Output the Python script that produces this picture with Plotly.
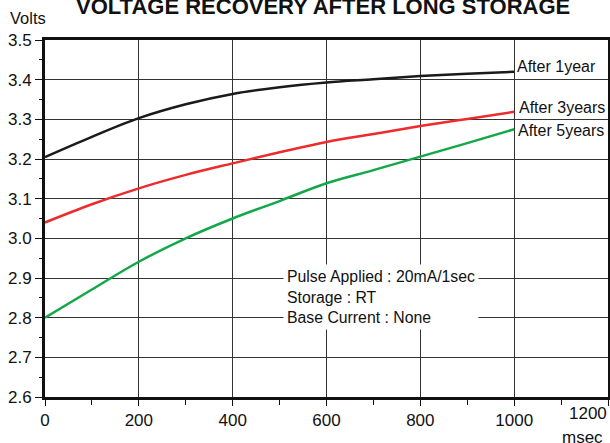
import plotly.graph_objects as go

x_ms = [0, 100, 200, 300, 400, 500, 600, 700, 800, 900, 1000]
v_1year = [3.205, 3.256, 3.303, 3.338, 3.364, 3.381, 3.393, 3.401, 3.409, 3.415, 3.42]
v_3years = [3.04, 3.086, 3.126, 3.16, 3.189, 3.217, 3.243, 3.263, 3.283, 3.301, 3.319]
v_5years = [2.80, 2.871, 2.941, 3.00, 3.05, 3.094, 3.139, 3.172, 3.206, 3.24, 3.275]
x_ticks = [0, 200, 400, 600, 800, 1000, 1200]
x_ticktext = ["0", "200", "400", "600", "800", "1000", ""]

series = [("After 1year", v_1year, "#1a1a1a"),
          ("After 3years", v_3years, "#ee2b2b"),
          ("After 5years", v_5years, "#12a84a")]

fig = go.Figure()
for name, ys, col in series:
    fig.add_trace(go.Scatter(x=x_ms, y=ys, mode="lines", name=name,
                             line=dict(color=col, width=2.5, shape="spline", smoothing=1.0)))

font = "Liberation Sans, Arial, sans-serif"
label_pos = [("After 1year", 1003, 3.434), ("After 3years", 1009, 3.329), ("After 5years", 1007, 3.271)]
for t, xv, yv in label_pos:
    fig.add_annotation(x=xv, y=yv, text=t, showarrow=False, xanchor="left", yanchor="middle",
                       font=dict(size=16, color="#111", family=font), bgcolor="white", borderpad=0)

fig.add_annotation(x=507, y=2.852, text="Pulse Applied : 20mA/1sec<br>Storage : RT<br>Base Current : None",
                   showarrow=False, xanchor="left", yanchor="middle", align="left",
                   font=dict(size=15.8, color="#111", family=font), bgcolor="white", borderpad=3)

fig.add_annotation(xref="paper", yref="paper", x=0.5, xshift=-4, y=1, yshift=34,
                   text="<b>VOLTAGE RECOVERY AFTER LONG STORAGE</b>",
                   showarrow=False, font=dict(size=22, color="#111", family=font), xanchor="center", yanchor="middle")
fig.add_annotation(xref="paper", yref="paper", x=0, xshift=-37, y=1, yshift=22, text="Volts",
                   showarrow=False, font=dict(size=16.5, color="#111", family=font), xanchor="left", yanchor="middle")
fig.add_annotation(xref="paper", yref="paper", x=1, xshift=-3, y=0, yshift=-40, text="msec",
                   showarrow=False, font=dict(size=17, color="#111", family=font), xanchor="right", yanchor="middle")
fig.add_annotation(xref="paper", yref="paper", x=1, xshift=1, y=0, yshift=-16, text="1200",
                   showarrow=False, font=dict(size=17, color="#111", family=font), xanchor="right", yanchor="middle")

fig.update_layout(
    width=610, height=443, showlegend=False,
    margin=dict(l=45, r=2, t=40, b=46, autoexpand=False),
    plot_bgcolor="white", paper_bgcolor="white",
    font=dict(family=font, size=17, color="#111"),
)
fig.update_xaxes(range=[0, 1200], tickvals=x_ticks, ticktext=x_ticktext, showgrid=True, gridcolor="#333", gridwidth=1,
                 showline=True, linecolor="#111", linewidth=3, mirror=True, automargin=False,
                 ticks="outside", ticklen=6, tickcolor="#111", zeroline=False,
                 minor=dict(dtick=100, ticks="outside", ticklen=5, tickcolor="#111", showgrid=False))
fig.update_yaxes(range=[2.6, 3.5], dtick=0.1, tick0=2.6, tickformat=".1f", showgrid=True, gridcolor="#333", gridwidth=1,
                 showline=True, linecolor="#111", linewidth=3, mirror=True, automargin=False,
                 ticks="outside", ticklen=7, tickcolor="#111", zeroline=False,
                 minor=dict(dtick=0.05, ticks="outside", ticklen=3, tickcolor="#111", showgrid=False))

fig.write_html("out.html", config={"displayModeBar": False},
               post_script="document.body.style.margin='0';document.body.style.overflow='hidden';")
